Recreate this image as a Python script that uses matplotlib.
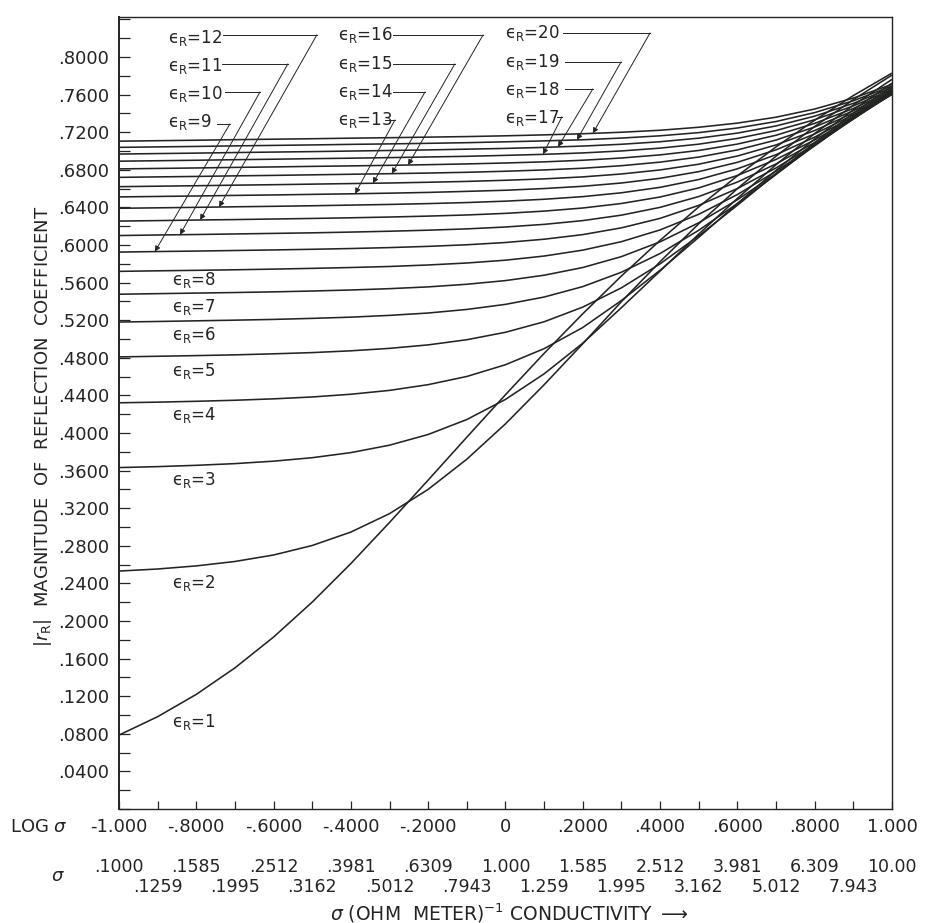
import numpy as np
import matplotlib.pyplot as plt
import matplotlib.transforms as mtransforms
from matplotlib.ticker import MultipleLocator, FuncFormatter

plt.rcParams['font.family'] = 'DejaVu Sans'
plt.rcParams['mathtext.fontset'] = 'dejavusans'

INK = '#232523'

# log of conductivity at the points
log_sigma = [-1.0, -0.9, -0.8, -0.7, -0.6, -0.5, -0.4, -0.3, -0.2, -0.1, 0.0,
             0.1, 0.2, 0.3, 0.4, 0.5, 0.6, 0.7, 0.8, 0.9, 1.0]

# |r_R| for each relative permittivity
er_1 = [0.0786, 0.0982, 0.1219, 0.1501, 0.1829, 0.2201, 0.2611, 0.3048, 0.3499, 0.3955, 0.4407,
        0.4847, 0.5268, 0.5670, 0.6049, 0.6405, 0.6735, 0.7043, 0.7327, 0.7589, 0.7828]
er_2 = [0.2531, 0.2553, 0.2586, 0.2633, 0.2702, 0.2803, 0.2946, 0.3142, 0.3400, 0.3721, 0.4097,
        0.4513, 0.4949, 0.5397, 0.5822, 0.6225, 0.6599, 0.6944, 0.7260, 0.7546, 0.7807]
er_3 = [0.3632, 0.3642, 0.3656, 0.3674, 0.3700, 0.3737, 0.3791, 0.3870, 0.3984, 0.4143, 0.4357,
        0.4629, 0.4955, 0.5333, 0.5722, 0.6115, 0.6495, 0.6854, 0.7185, 0.7487, 0.7761]
er_4 = [0.4321, 0.4328, 0.4337, 0.4348, 0.4363, 0.4383, 0.4412, 0.4453, 0.4514, 0.4601, 0.4726,
        0.4897, 0.5122, 0.5409, 0.5731, 0.6081, 0.6440, 0.6793, 0.7128, 0.7438, 0.7721]
er_5 = [0.4809, 0.4816, 0.4823, 0.4831, 0.4842, 0.4855, 0.4874, 0.4900, 0.4937, 0.4992, 0.5071,
        0.5183, 0.5339, 0.5544, 0.5799, 0.6097, 0.6422, 0.6758, 0.7087, 0.7400, 0.7689]
er_6 = [0.5180, 0.5186, 0.5193, 0.5200, 0.5208, 0.5219, 0.5232, 0.5251, 0.5276, 0.5314, 0.5368,
        0.5446, 0.5557, 0.5710, 0.5909, 0.6156, 0.6441, 0.6749, 0.7064, 0.7371, 0.7661]
er_7 = [0.5476, 0.5482, 0.5488, 0.5494, 0.5501, 0.5510, 0.5521, 0.5535, 0.5554, 0.5582, 0.5621,
        0.5678, 0.5760, 0.5876, 0.6033, 0.6236, 0.6481, 0.6759, 0.7055, 0.7352, 0.7639]
er_8 = [0.5719, 0.5725, 0.5730, 0.5736, 0.5743, 0.5751, 0.5760, 0.5771, 0.5787, 0.5808, 0.5838,
        0.5882, 0.5945, 0.6035, 0.6160, 0.6326, 0.6536, 0.6784, 0.7058, 0.7342, 0.7622]
er_9 = [0.5924, 0.5930, 0.5935, 0.5941, 0.5947, 0.5954, 0.5962, 0.5972, 0.5985, 0.6002, 0.6026,
        0.6061, 0.6110, 0.6182, 0.6283, 0.6421, 0.6600, 0.6819, 0.7070, 0.7339, 0.7611]
er_10 = [0.6100, 0.6106, 0.6111, 0.6117, 0.6123, 0.6129, 0.6137, 0.6146, 0.6157, 0.6171, 0.6191,
         0.6219, 0.6259, 0.6317, 0.6400, 0.6515, 0.6669, 0.6862, 0.7090, 0.7343, 0.7604]
er_11 = [0.6254, 0.6259, 0.6265, 0.6270, 0.6276, 0.6282, 0.6289, 0.6297, 0.6307, 0.6319, 0.6336,
         0.6360, 0.6393, 0.6441, 0.6510, 0.6607, 0.6739, 0.6910, 0.7117, 0.7352, 0.7602]
er_12 = [0.6390, 0.6395, 0.6400, 0.6406, 0.6411, 0.6417, 0.6424, 0.6431, 0.6440, 0.6451, 0.6466,
         0.6486, 0.6514, 0.6555, 0.6613, 0.6696, 0.6810, 0.6960, 0.7147, 0.7366, 0.7604]
er_13 = [0.6511, 0.6516, 0.6521, 0.6527, 0.6532, 0.6538, 0.6544, 0.6551, 0.6559, 0.6570, 0.6582,
         0.6600, 0.6624, 0.6659, 0.6709, 0.6780, 0.6879, 0.7012, 0.7181, 0.7384, 0.7610]
er_14 = [0.6620, 0.6625, 0.6630, 0.6636, 0.6641, 0.6647, 0.6653, 0.6659, 0.6667, 0.6676, 0.6688,
         0.6703, 0.6724, 0.6755, 0.6798, 0.6859, 0.6946, 0.7064, 0.7217, 0.7404, 0.7618]
er_15 = [0.6719, 0.6724, 0.6729, 0.6735, 0.6740, 0.6746, 0.6752, 0.6758, 0.6765, 0.6773, 0.6784,
         0.6798, 0.6816, 0.6843, 0.6881, 0.6935, 0.7011, 0.7116, 0.7255, 0.7427, 0.7629]
er_16 = [0.6809, 0.6814, 0.6819, 0.6825, 0.6830, 0.6836, 0.6841, 0.6847, 0.6854, 0.6862, 0.6872,
         0.6884, 0.6901, 0.6925, 0.6958, 0.7005, 0.7073, 0.7167, 0.7293, 0.7452, 0.7641]
er_17 = [0.6891, 0.6896, 0.6901, 0.6907, 0.6912, 0.6918, 0.6923, 0.6929, 0.6936, 0.6943, 0.6953,
         0.6964, 0.6979, 0.7000, 0.7030, 0.7072, 0.7133, 0.7217, 0.7332, 0.7479, 0.7656]
er_18 = [0.6967, 0.6972, 0.6977, 0.6983, 0.6988, 0.6993, 0.6999, 0.7005, 0.7011, 0.7019, 0.7027,
         0.7038, 0.7052, 0.7071, 0.7098, 0.7136, 0.7190, 0.7266, 0.7370, 0.7506, 0.7673]
er_19 = [0.7038, 0.7043, 0.7048, 0.7054, 0.7059, 0.7064, 0.7070, 0.7075, 0.7081, 0.7088, 0.7097,
         0.7107, 0.7119, 0.7137, 0.7161, 0.7195, 0.7244, 0.7313, 0.7408, 0.7534, 0.7690]
er_20 = [0.7104, 0.7109, 0.7114, 0.7120, 0.7125, 0.7130, 0.7136, 0.7141, 0.7147, 0.7153, 0.7161,
         0.7171, 0.7183, 0.7199, 0.7220, 0.7252, 0.7296, 0.7359, 0.7446, 0.7562, 0.7708]

curves = [er_1, er_2, er_3, er_4, er_5, er_6, er_7, er_8, er_9, er_10,
          er_11, er_12, er_13, er_14, er_15, er_16, er_17, er_18, er_19, er_20]

# axis lettering
log_labels = ['-1.000', '-.8000', '-.6000', '-.4000', '-.2000', '0',
              '.2000', '.4000', '.6000', '.8000', '1.000']
sigma_even = ['.1000', '.1585', '.2512', '.3981', '.6309', '1.000',
              '1.585', '2.512', '3.981', '6.309', '10.00']
sigma_odd = ['.1259', '.1995', '.3162', '.5012', '.7943',
             '1.259', '1.995', '3.162', '5.012', '7.943']

# labels under the curves for er = 1..8: (log sigma, baseline)
low_label_pos = [(-0.863, 0.0872), (-0.863, 0.2351), (-0.863, 0.3447), (-0.863, 0.4138),
                 (-0.863, 0.4606), (-0.863, 0.4989), (-0.863, 0.5287), (-0.863, 0.5574)]

# leader labels for er = 9..20:
# (text x, text baseline, leader start x, corner x, leader y, arrow tip x)
leader_pos = [
    (-0.873, 0.7255, -0.746, -0.713, 0.7287, -0.907),
    (-0.873, 0.7553, -0.726, -0.635, 0.7628, -0.842),
    (-0.873, 0.7851, -0.734, -0.563, 0.7926, -0.790),
    (-0.873, 0.8149, -0.731, -0.488, 0.8234, -0.741),
    (-0.433, 0.7277, -0.312, -0.286, 0.7330, -0.389),
    (-0.433, 0.7574, -0.291, -0.208, 0.7628, -0.343),
    (-0.433, 0.7872, -0.291, -0.131, 0.7926, -0.294),
    (-0.433, 0.8181, -0.291, -0.058, 0.8234, -0.252),
    (-0.001, 0.7298, 0.133, 0.146, 0.7362, 0.097),
    (-0.001, 0.7596, 0.154, 0.226, 0.7660, 0.136),
    (-0.001, 0.7894, 0.154, 0.299, 0.7947, 0.185),
    (-0.001, 0.8202, 0.149, 0.374, 0.8255, 0.226),
]

fig = plt.figure(figsize=(9.25, 9.23), dpi=100)
ax = fig.add_axes([0.1286, 0.1235, 0.8357, 0.8581])

for vals in curves:
    ax.plot(log_sigma, vals, color=INK, lw=1.15, solid_capstyle='butt', solid_joinstyle='round')

ax.set_xlim(-1, 1)
ax.set_ylim(0, 0.8425)

for s in ax.spines.values():
    s.set_color(INK)
    s.set_linewidth(1.0)
ax.spines['left'].set_linewidth(1.4)

ax.yaxis.set_major_locator(MultipleLocator(0.04))
ax.yaxis.set_minor_locator(MultipleLocator(0.02))
ax.yaxis.set_major_formatter(FuncFormatter(lambda v, p: '' if v < 0.01 or v > 0.81 else f'{v:.4f}'[1:]))
ax.xaxis.set_major_locator(MultipleLocator(0.1))
ax.tick_params(axis='y', which='both', direction='in', length=8, width=0.9, color=INK,
               labelsize=13, labelcolor=INK, pad=7)
ax.tick_params(axis='x', which='both', direction='in', length=6, width=0.9, color=INK,
               labelbottom=False)

# bottom lettering: log sigma row, two sigma rows, axis title
xrow = mtransforms.blended_transform_factory(ax.transData, fig.transFigure)
for v, t in zip(log_sigma[::2], log_labels):
    ax.text(v, 0.104, t, transform=xrow, ha='center', va='center', fontsize=13, color=INK)
for v, t in zip(log_sigma[::2], sigma_even):
    ax.text(v, 0.0607, t, transform=xrow, ha='center', va='center', fontsize=12.5, color=INK)
for v, t in zip(log_sigma[1::2], sigma_odd):
    ax.text(v, 0.039, t, transform=xrow, ha='center', va='center', fontsize=12.5, color=INK)

fig.text(0.011, 0.104, r'LOG $\sigma$', ha='left', va='center', fontsize=13, color=INK)
fig.text(0.0627, 0.0509, r'$\sigma$', ha='center', va='center', fontsize=13, color=INK)
fig.text(0.551, 0.0108, r'$\sigma$ (OHM  METER)$^{-1}$ CONDUCTIVITY $\longrightarrow$',
         ha='center', va='center', fontsize=13.5, color=INK)
fig.text(0.047, 0.538, r'$|r_\mathrm{R}|$  MAGNITUDE  OF  REFLECTION  COEFFICIENT',
         rotation=90, ha='center', va='center', fontsize=13, color=INK)

# curve labels (lunate epsilon as in the original lettering)
def er_label(n):
    return '\u03f5$_\\mathrm{R}$=' + str(n)

for i, (lx, ly) in enumerate(low_label_pos):
    ax.text(lx, ly, er_label(i + 1), ha='left', va='baseline', fontsize=12, color=INK)

for j, (tx, ty, hx0, hx1, hy, tipx) in enumerate(leader_pos):
    n = j + 9
    ax.text(tx, ty, er_label(n), ha='left', va='baseline', fontsize=12, color=INK)
    tipy = np.interp(tipx, log_sigma, curves[n - 1])
    ax.plot([hx0, hx1], [hy, hy], color=INK, lw=0.7)
    ax.annotate('', xy=(tipx, tipy), xytext=(hx1, hy),
                arrowprops=dict(arrowstyle='-|>', color=INK, lw=0.7,
                                mutation_scale=8, shrinkA=0, shrinkB=0))

fig.savefig('out.png', dpi=100)
